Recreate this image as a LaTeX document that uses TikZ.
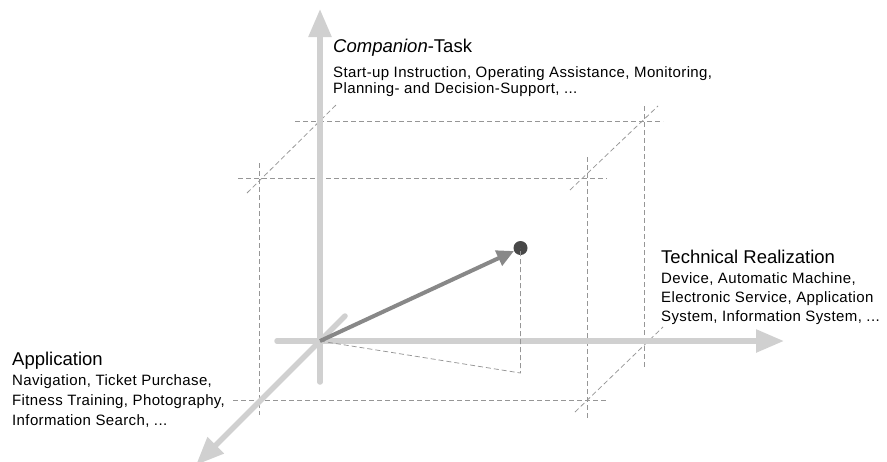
\documentclass[tikz,border=0pt]{standalone}
\usepackage{fontspec}
\setmainfont{Liberation Sans}
\newfontfamily\bodyfont[LetterSpace=2.5]{Liberation Sans}
\usetikzlibrary{arrows.meta}
\definecolor{axisgray}{RGB}{208,208,208}
\definecolor{dashgray}{RGB}{150,150,150}
\definecolor{vecgray}{RGB}{136,136,136}
\definecolor{dotgray}{RGB}{72,72,72}
\newcommand{\blocktext}[2]{\parbox[t]{#1}{\raggedright #2}}
\begin{document}
\begin{tikzpicture}[x=1pt,y=-1pt,
  axis/.style={draw=axisgray,line width=5.5pt,line cap=round,
    -{Triangle[length=28pt,width=22pt]}},
  guide/.style={draw=dashgray,line width=0.75pt,dash pattern=on 5pt off 3pt},
  vec/.style={draw=vecgray,line width=4pt,-{Triangle[length=17pt,width=16pt]}},
  ttl/.style={anchor=base west,inner sep=0pt,font=\fontsize{18.5}{22}\selectfont},
  body/.style={anchor=base west,inner sep=0pt},
]
\useasboundingbox (0,0) rectangle (887,461);
% axis coordinates
\coordinate (O) at (320,341);
\coordinate (vb) at (320,382);
\coordinate (vt) at (320,9);
\coordinate (hl) at (277,341);
\coordinate (hr) at (784,341);
\coordinate (ds) at (345,316);
\coordinate (de) at (196,465);
% guides (box)
\coordinate (g1a) at (295,121); \coordinate (g1b) at (663,121);
\coordinate (g2a) at (238,178); \coordinate (g2b) at (607,178);
\coordinate (g3a) at (233,400); \coordinate (g3b) at (607,400);
\coordinate (g4a) at (259,163); \coordinate (g4b) at (259,415);
\coordinate (g5a) at (587,157); \coordinate (g5b) at (587,418);
\coordinate (g6a) at (644,106); \coordinate (g6b) at (644,367);
\coordinate (g7a) at (247,193); \coordinate (g7b) at (338,103);
\coordinate (g8a) at (570,190); \coordinate (g8b) at (658,106);
\coordinate (g9a) at (575,412); \coordinate (g9b) at (663,327);
\draw[guide] (g1a) -- (g1b);
\draw[guide] (g2a) -- (g2b);
\draw[guide] (g3a) -- (g3b);
\draw[guide] (g4a) -- (g4b);
\draw[guide] (g5a) -- (g5b);
\draw[guide] (g6a) -- (g6b);
\draw[guide] (g7a) -- (g7b);
\draw[guide] (g8a) -- (g8b);
\draw[guide] (g9a) -- (g9b);
% axes
\draw[axis] (vb) -- (vt);
\draw[axis] (hl) -- (hr);
\draw[axis] (ds) -- (de);
% point and projection
\node[circle,fill=dotgray,inner sep=0pt,minimum size=14pt] (P) at (520.5,248) {};
\coordinate (Q) at (520.5,373);
\draw[guide] (O) -- (Q) -- (P.center);
\draw[vec] (O) -- (P);
% labels
\node[ttl] (ct) at (333,52) {\textit{Companion}-Task};
\node[body,font=\bodyfont\fontsize{15}{16.7}\selectfont] (cb) at (333,77)
  {\blocktext{420pt}{Start-up Instruction, Operating Assistance, Monitoring,\\Planning- and Decision-Support, ...}};
\node[ttl] (tt) at (661,263) {Technical Realization};
\node[body,font=\bodyfont\fontsize{15}{19}\selectfont] (tb) at (661,283)
  {\blocktext{226pt}{Device, Automatic Machine,\\Electronic Service, Application\\System, Information System, ...}};
\node[ttl] (at) at (12,365) {Application};
\node[body,font=\bodyfont\fontsize{15}{20}\selectfont] (ab) at (12,385)
  {\blocktext{220pt}{Navigation, Ticket Purchase,\\Fitness Training, Photography,\\Information Search, ...}};
\end{tikzpicture}
\end{document}
